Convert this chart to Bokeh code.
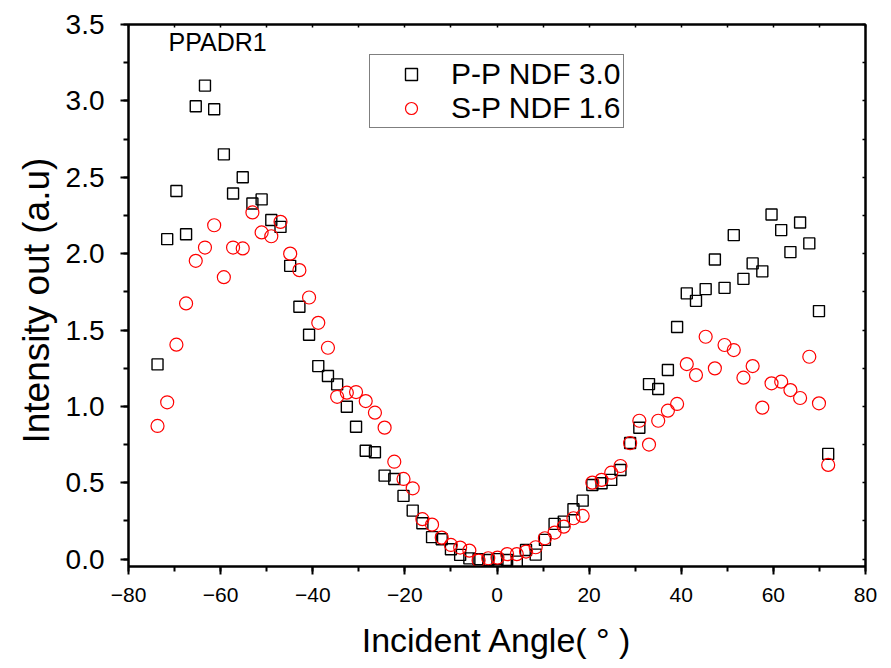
from bokeh.plotting import figure
from bokeh.models import (Range1d, SingleIntervalTicker, LinearAxis, Legend, LegendItem,
                          PrintfTickFormatter, Label, CustomJSTickFormatter)
from bokeh.embed import file_html
from bokeh.resources import INLINE

# ---- data ----
angle = [-73.7, -71.6, -69.6, -67.5, -65.4, -63.4, -61.4, -59.3, -57.3, -55.2,
         -53.1, -51.1, -49.0, -47.0, -44.9, -42.9, -40.8, -38.8, -36.7, -34.7,
         -32.6, -30.6, -28.5, -26.5, -24.4, -22.3, -20.3, -18.3, -16.2, -14.1,
         -12.0, -10.0, -8.0, -6.0, -4.0, -1.9, 0.1,
         2.2, 4.3, 6.3, 8.4, 10.4, 12.5, 14.5, 16.6, 18.6, 20.7,
         22.7, 24.8, 26.8, 28.9, 30.9, 33.0, 35.0, 37.1, 39.1, 41.2,
         43.2, 45.3, 47.3, 49.4, 51.4, 53.5, 55.5, 57.6, 59.6, 61.7,
         63.7, 65.8, 67.8, 69.9, 71.9]

pp_ndf30 = [1.275, 2.095, 2.41, 2.127, 2.965, 3.10, 2.945, 2.65, 2.394, 2.50,
            2.328, 2.355, 2.22, 2.175, 1.92, 1.652, 1.469, 1.264, 1.199, 1.144,
            0.998, 0.867, 0.71, 0.70, 0.547, 0.525, 0.414, 0.318, 0.235, 0.144,
            0.13, 0.065, 0.028, 0.005, 0.0, -0.005, 0.0,
            -0.005, -0.016, 0.06, 0.03, 0.126, 0.231, 0.246, 0.327, 0.383, 0.486,
            0.497, 0.519, 0.584, 0.76, 0.86, 1.146, 1.114, 1.238, 1.52, 1.74,
            1.691, 1.768, 1.962, 1.776, 2.121, 1.835, 1.936, 1.884, 2.256, 2.154,
            2.01, 2.204, 2.067, 1.624, 0.689]

sp_ndf16 = [0.872, 1.027, 1.404, 1.674, 1.953, 2.04, 2.186, 1.846, 2.04, 2.034,
            2.27, 2.139, 2.114, 2.208, 2.0, 1.892, 1.713, 1.547, 1.384, 1.063,
            1.09, 1.094, 1.035, 0.959, 0.861, 0.638, 0.525, 0.464, 0.262, 0.226,
            0.141, 0.093, 0.076, 0.056, -0.009, 0.006, 0.01,
            0.033, 0.033, 0.05, 0.078, 0.137, 0.174, 0.213, 0.268, 0.283, 0.501,
            0.519, 0.566, 0.61, 0.759, 0.906, 0.75, 0.906, 0.972, 1.016, 1.277,
            1.205, 1.456, 1.249, 1.402, 1.369, 1.188, 1.264, 0.992, 1.151, 1.162,
            1.107, 1.055, 1.325, 1.02, 0.617]

series_names = ["P-P NDF 3.0", "S-P NDF 1.6"]
title_text = "PPADR1"
x_label = "Incident Angle( \u00b0 )"
y_label = "Intensity out  (a.u)"

FONT = "Liberation Sans"

p = figure(width=880, height=666, output_backend="svg", toolbar_location=None,
           x_range=Range1d(-80, 80), y_range=Range1d(-0.048, 3.5),
           min_border_left=128, min_border_right=15, min_border_top=24,
           min_border_bottom=100)
p.grid.visible = False
p.outline_line_color = "black"
p.outline_line_width = 2
p.background_fill_color = "white"
p.border_fill_color = "white"

xt = SingleIntervalTicker(interval=20, num_minor_ticks=2)
yt = SingleIntervalTicker(interval=0.5, num_minor_ticks=2)

xa = p.xaxis[0]
xa.ticker = xt
xa.axis_label = x_label
xa.axis_label_text_font = FONT
xa.axis_label_text_font_size = "34px"
xa.axis_label_text_font_style = "normal"
xa.axis_label_text_color = "black"
xa.axis_label_standoff = 16
xa.major_label_text_font = FONT
xa.major_label_text_font_size = "21px"
xa.major_label_standoff = 13

ya = p.yaxis[0]
ya.ticker = yt
ya.formatter = PrintfTickFormatter(format="%.1f")
ya.axis_label = y_label
ya.axis_label_text_font = FONT
ya.axis_label_text_font_size = "37px"
ya.axis_label_text_font_style = "normal"
ya.axis_label_text_color = "black"
ya.axis_label_standoff = 6
ya.major_label_text_font = FONT
ya.major_label_text_font_size = "28px"
ya.major_label_standoff = 16

for ax in (xa, ya):
    ax.axis_line_width = 2
    ax.axis_line_color = "black"
    ax.major_tick_line_width = 2
    ax.minor_tick_line_width = 2
    ax.major_tick_out = 8
    ax.major_tick_in = 0
    ax.minor_tick_out = 5
    ax.minor_tick_in = 0
    ax.major_label_text_color = "black"

blank = CustomJSTickFormatter(code="return ''")
top = LinearAxis(ticker=SingleIntervalTicker(interval=10, num_minor_ticks=0), formatter=blank)
right = LinearAxis(ticker=SingleIntervalTicker(interval=0.25, num_minor_ticks=0), formatter=blank)
for ax in (top, right):
    ax.major_label_standoff = 0
    ax.major_tick_in = 3
    ax.major_tick_out = 0
    ax.minor_tick_in = 0
    ax.minor_tick_out = 0
    ax.axis_line_width = 2
    ax.major_tick_line_width = 1.5
p.add_layout(top, "above")
p.add_layout(right, "right")

r1 = p.scatter(angle, pp_ndf30, marker="square", size=11, fill_color=None,
               line_color="black", line_width=1.4)
r2 = p.scatter(angle, sp_ndf16, marker="circle", size=13, fill_color=None,
               line_color="#ff0000", line_width=1.2)

legend = Legend(items=[LegendItem(label=series_names[0], renderers=[r1]),
                       LegendItem(label=series_names[1], renderers=[r2])],
                location=(241, 438), orientation="vertical")
legend.label_text_font = FONT
legend.label_text_font_size = "30px"
legend.label_text_color = "black"
legend.border_line_color = "black"
legend.border_line_width = 1.2
legend.background_fill_alpha = 1.0
legend.padding = 2
legend.spacing = 0
legend.glyph_width = 78
legend.glyph_height = 30
legend.label_height = 30
legend.label_standoff = 1
legend.margin = 0
p.add_layout(legend, "center")

p.add_layout(Label(x=-71.3, y=3.475, text=title_text, text_font=FONT,
                   text_color="black",
                   text_font_size="25px", text_baseline="top", text_align="left"))

with open("out.html", "w") as f:
    f.write(file_html(p, INLINE))
